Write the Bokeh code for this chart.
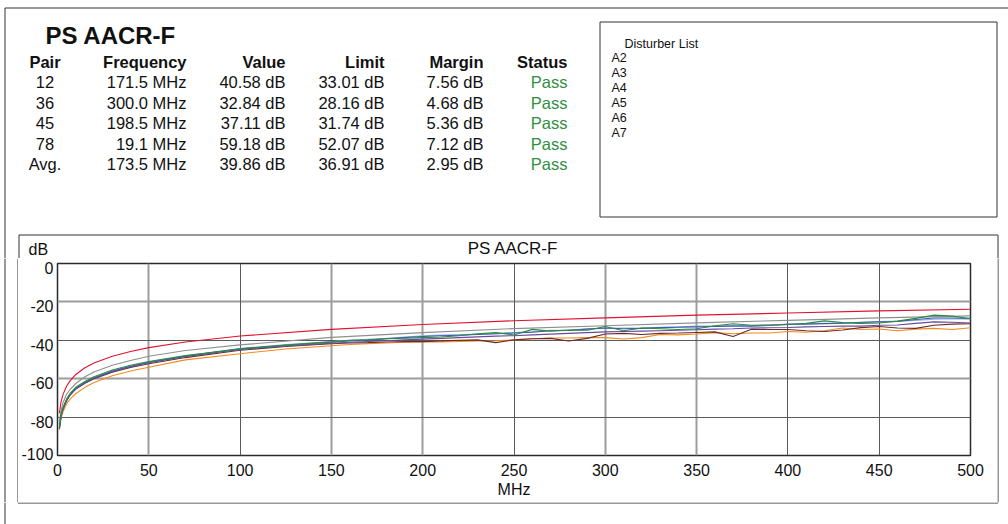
from bokeh.plotting import figure
from bokeh.models import FixedTicker, Range1d, Grid
from bokeh.layouts import column, row
from bokeh.core.properties import value
from bokeh.embed import file_html
from bokeh.resources import INLINE

FONT = "Liberation Sans"

# ---------------- table data ----------------
TABLE_TITLE = "PS AACR-F"
COLUMNS = ["Pair", "Frequency", "Value", "Limit", "Margin", "Status"]
PAIRS = ["12", "36", "45", "78", "Avg."]
FREQS = ["171.5 MHz", "300.0 MHz", "198.5 MHz", "19.1 MHz", "173.5 MHz"]
VALUES = ["40.58 dB", "32.84 dB", "37.11 dB", "59.18 dB", "39.86 dB"]
LIMITS = ["33.01 dB", "28.16 dB", "31.74 dB", "52.07 dB", "36.91 dB"]
MARGINS = ["7.56 dB", "4.68 dB", "5.36 dB", "7.12 dB", "2.95 dB"]
STATUS = ["Pass", "Pass", "Pass", "Pass", "Pass"]
DISTURBER_TITLE = "Disturber List"
DISTURBERS = ["A2", "A3", "A4", "A5", "A6", "A7"]

# ---------------- chart data ----------------
CHART_TITLE = "PS AACR-F"
X_LABEL = "MHz"
Y_LABEL = "dB"
X_TICKS = [0, 50, 100, 150, 200, 250, 300, 350, 400, 450, 500]
Y_TICKS = [0, -20, -40, -60, -80, -100]
Y_TICK_LABELS = ["0", "-20", "-40", "-60", "-80", "-100"]

F_SMOOTH = [1, 2, 3, 5, 7, 10, 15, 20, 30, 40, 50, 70, 100, 150, 200, 250,
            300, 350, 400, 450, 500]
LIMIT_RED = [-78.0, -71.8, -68.3, -63.8, -61.0, -57.8, -54.3, -51.8, -48.3,
             -45.8, -43.8, -40.9, -37.8, -34.3, -31.8, -29.8, -28.3, -26.9,
             -25.8, -24.7, -23.8]
LIMIT_GRAY = [-82.0, -76.5, -72.5, -68.0, -65.5, -62.5, -59.0, -56.5, -53.0,
              -50.5, -48.3, -45.3, -42.4, -38.5, -36.0, -33.9, -32.4, -30.9,
              -29.6, -28.3, -27.3]

F_MEAS = [1, 2, 3, 5, 7, 10, 15, 20, 30, 40, 50, 70, 100, 125, 150,
          160, 170, 180, 190, 200, 210, 220, 230, 240, 250, 260, 270, 280,
          290, 300, 310, 320, 330, 340, 350, 360, 370, 380, 390, 400, 410,
          420, 430, 440, 450, 460, 470, 480, 490, 500]

GREEN = [-85.5, -78.5, -75.0, -70.5, -67.5, -64.5, -61.5, -59.0, -55.5, -53.0,
         -51.0, -48.0, -44.5, -42.5, -40.8,
         -40.0, -39.8, -39.2, -38.9, -38.6, -38.3, -37.6, -36.6, -36.0, -37.2,
         -34.3, -35.2, -34.6, -34.8, -32.8, -35.0, -33.6, -34.0, -34.4, -34.0,
         -32.4, -31.4, -32.2, -32.0, -31.8, -31.2, -29.9, -30.8, -31.2, -31.0,
         -30.0, -28.6, -26.9, -27.4, -28.8]
BLUE = [-86.0, -79.0, -75.5, -71.0, -68.0, -65.0, -62.0, -59.5, -56.0, -53.5,
        -51.3, -48.2, -44.4, -42.6, -41.0,
        -40.4, -39.9, -39.2, -38.6, -38.0, -37.6, -37.4, -37.0, -36.6, -36.2,
        -35.8, -35.0, -34.9, -34.2, -33.6, -34.0, -33.8, -33.4, -33.2, -33.0,
        -32.8, -32.6, -32.6, -32.3, -31.6, -31.6, -31.3, -31.1, -30.6, -30.4,
        -30.2, -29.2, -28.4, -28.4, -28.6]
LIGHT_BLUE = [-86.5, -79.5, -76.0, -71.3, -68.3, -65.3, -62.2, -59.7, -56.2,
              -53.6, -51.4, -48.3, -44.2, -42.2, -40.6,
              -40.0, -39.5, -39.0, -38.3, -37.7, -37.3, -37.0, -36.8, -36.5,
              -36.0, -35.5, -34.8, -34.6, -34.0, -33.8, -33.6, -33.6, -33.2,
              -33.0, -32.6, -32.6, -32.2, -32.4, -32.0, -31.9, -31.4, -31.2,
              -31.0, -30.8, -30.2, -30.0, -29.6, -29.0, -28.8, -29.0]
PURPLE = [-86.0, -79.2, -75.7, -71.2, -68.2, -65.2, -62.2, -59.8, -56.3, -53.8,
          -51.7, -48.5, -44.8, -42.9, -41.5,
          -41.0, -40.6, -40.2, -39.8, -39.4, -39.0, -38.6, -38.2, -37.8, -37.6,
          -37.2, -36.8, -36.4, -36.0, -35.6, -35.4, -35.2, -35.0, -34.8, -34.5,
          -34.2, -34.0, -33.6, -33.5, -33.3, -33.0, -32.8, -32.6, -32.6, -32.2,
          -32.0, -31.2, -30.4, -30.6, -31.0]
BROWN = [-85.8, -79.2, -75.8, -71.4, -68.4, -65.4, -62.4, -60.0, -56.6, -54.2,
         -52.2, -49.0, -45.2, -43.2, -41.8,
         -41.4, -41.2, -40.9, -40.6, -40.7, -40.3, -40.0, -39.8, -41.2, -39.8,
         -39.2, -39.0, -40.4, -39.0, -36.7, -36.4, -37.0, -36.4, -36.2, -35.9,
         -35.6, -38.0, -34.2, -34.4, -34.4, -35.0, -35.4, -34.6, -33.4, -32.8,
         -33.6, -33.8, -32.2, -31.6, -31.4]
ORANGE = [-86.5, -80.3, -77.2, -73.0, -70.5, -67.8, -64.5, -62.0, -58.5, -56.0,
          -54.0, -50.2, -47.0, -44.5, -42.8,
          -42.2, -41.8, -41.4, -41.0, -40.9, -40.8, -40.6, -40.4, -40.2, -39.8,
          -39.2, -38.8, -38.8, -38.6, -38.6, -39.3, -38.6, -37.0, -37.2, -36.7,
          -36.0, -36.6, -36.2, -36.2, -35.4, -35.8, -35.0, -33.6, -34.4, -34.1,
          -35.0, -34.2, -33.8, -34.4, -33.5]

LINE = "#333333"
INK = "#111111"
PASS_GREEN = "#2f8f3f"


def canvas_fig(w, h):
    f = figure(width=w, height=h, x_range=Range1d(0, w), y_range=Range1d(h, 0),
               output_backend="svg", toolbar_location=None, title=None,
               x_axis_type=None, y_axis_type=None, min_border=0,
               outline_line_color=None, frame_align=False)
    f.background_fill_color = "white"
    f.border_fill_color = "white"
    return f


def put_text(f, xs, ys, texts, size="16.5px", align="left", bold=False, color=INK):
    f.text(x=xs, y=ys, text=texts, text_font=value(FONT),
           text_font_size=value(size),
           text_font_style=value("bold" if bold else "normal"),
           text_align=value(align), text_baseline=value("middle"),
           text_color=color)


def put_lines(f, x0, y0, x1, y1):
    f.segment(x0=x0, y0=y0, x1=x1, y1=y1, line_color=LINE, line_width=1)


TOP_H = 258      # page rows 0..258
MID_H = 244      # page rows 258..502
BOT_H = 22       # page rows 502..524

# ---------------- top panel ----------------
top = canvas_fig(1008, TOP_H)
put_lines(top,
          [4.5, 4.5, 599.5, 599.5, 599.5, 996.5, 18.5, 18.5, 997.5],
          [7.5, 7.5, 21.5, 216.5, 21.5, 21.5, 234.5, 234.5, 234.5],
          [1008, 4.5, 996.5, 996.5, 599.5, 996.5, 997.5, 18.5, 997.5],
          [7.5, TOP_H, 21.5, 216.5, 216.5, 216.5, 234.5, TOP_H, TOP_H])

put_text(top, [45], [35], [TABLE_TITLE], size="24px", bold=True)
col_x = [44.5, 186, 285, 384, 483, 567]
col_align = ["center", "right", "right", "right", "right", "right"]
row_y = [81.5, 102, 122.5, 143, 163.5]
for name, x, a in zip(COLUMNS, col_x, col_align):
    put_text(top, [x], [61], [name], align=a, bold=True)
table_cols = [PAIRS, FREQS, VALUES, LIMITS, MARGINS, STATUS]
for j, (cells, x, a) in enumerate(zip(table_cols, col_x, col_align)):
    put_text(top, [x] * len(cells), row_y, cells, align=a,
             color=PASS_GREEN if j == 5 else INK)

put_text(top, [624], [43], [DISTURBER_TITLE], size="12.5px")
put_text(top, [611] * len(DISTURBERS), [57.7 + 15 * k for k in range(len(DISTURBERS))],
         DISTURBERS, size="12.5px")

put_text(top, [512.5], [248], [CHART_TITLE], size="17px", align="center")
put_text(top, [28], [248.5], [Y_LABEL], size="16px")

# ---------------- chart (page rows 258..502, cols 18..997) ----------------
p = figure(width=979, height=MID_H, x_range=Range1d(0, 500), y_range=Range1d(-100, 0),
           output_backend="svg", toolbar_location=None, title=None,
           min_border_left=37, min_border_right=27, min_border_top=5,
           min_border_bottom=47, frame_align=False)
p.background_fill_color = "white"
p.border_fill_color = "white"
p.outline_line_color = "#2a2a2a"
p.outline_line_width = 1.5

for ax in (p.xaxis, p.yaxis):
    ax.axis_line_color = None
    ax.major_tick_line_color = None
    ax.minor_tick_line_color = None
    ax.major_tick_out = 0
    ax.major_tick_in = 0
    ax.minor_tick_out = 0
    ax.minor_tick_in = 0
    ax.major_label_text_font = FONT
    ax.major_label_text_font_size = "16px"
    ax.major_label_text_color = INK

# y labels sit a little below their grid lines in the reference
LABEL_DROP_DB = 2.3
y_label_at = [round(max(t - LABEL_DROP_DB, Y_TICKS[-1] + 1.0), 2) for t in Y_TICKS]
p.xaxis.ticker = FixedTicker(ticks=X_TICKS)
p.yaxis.ticker = FixedTicker(ticks=y_label_at)
p.yaxis.major_label_overrides = {t: s for t, s in zip(y_label_at, Y_TICK_LABELS)}
p.xaxis.major_label_standoff = 8
p.yaxis.major_label_standoff = 4
p.xaxis.axis_label = X_LABEL
p.xaxis.axis_label_text_font = FONT
p.xaxis.axis_label_text_font_size = "16px"
p.xaxis.axis_label_text_font_style = "normal"
p.xaxis.axis_label_text_color = INK
p.xaxis.axis_label_standoff = 2

# grid: default grids carry the lighter lines, extra grids the darker ones
X_GRID_DARK = [100, 250, 400, 450]
Y_GRID_DARK = [-40, -80]
p.xgrid.ticker = FixedTicker(ticks=[t for t in X_TICKS if t not in X_GRID_DARK])
p.ygrid.ticker = FixedTicker(ticks=[t for t in Y_TICKS if t not in Y_GRID_DARK])
for g in (p.xgrid, p.ygrid):
    g.grid_line_color = "#9c9c9c"
    g.grid_line_width = 2
p.add_layout(Grid(dimension=0, ticker=FixedTicker(ticks=X_GRID_DARK),
                  grid_line_color="#5a5a5a", grid_line_width=1))
p.add_layout(Grid(dimension=1, ticker=FixedTicker(ticks=Y_GRID_DARK),
                  grid_line_color="#5a5a5a", grid_line_width=1))

series = [
    (F_SMOOTH, LIMIT_GRAY, "#8f8f8f"),
    (F_MEAS, LIGHT_BLUE, "#8fb0e6"),
    (F_MEAS, ORANGE, "#f28a1e"),
    (F_MEAS, BROWN, "#6e2b2b"),
    (F_MEAS, PURPLE, "#6a4a9c"),
    (F_MEAS, BLUE, "#3b5db0"),
    (F_MEAS, GREEN, "#2e8b3e"),
    (F_SMOOTH, LIMIT_RED, "#e3122e"),
]
for xs, ys, c in series:
    p.line(xs, ys, line_color=c, line_width=1.1)

# side strips carrying the chart box edges and the outer border
left = canvas_fig(18, MID_H)
put_lines(left, [4.5, 17.5], [0, 0], [4.5, 17.5], [MID_H, MID_H])
right = canvas_fig(11, MID_H)
put_lines(right, [0.5], [0], [0.5], [MID_H])

bottom = canvas_fig(1008, BOT_H)
put_lines(bottom, [4.5, 17.5, 997.5, 17.5], [0, 0, 0, 0.5],
          [4.5, 17.5, 997.5, 997.5], [BOT_H, 0.5, 0.5, 0.5])

layout = column(top, row(left, p, right), bottom)

open("out.html", "w").write(file_html(layout, INLINE))
